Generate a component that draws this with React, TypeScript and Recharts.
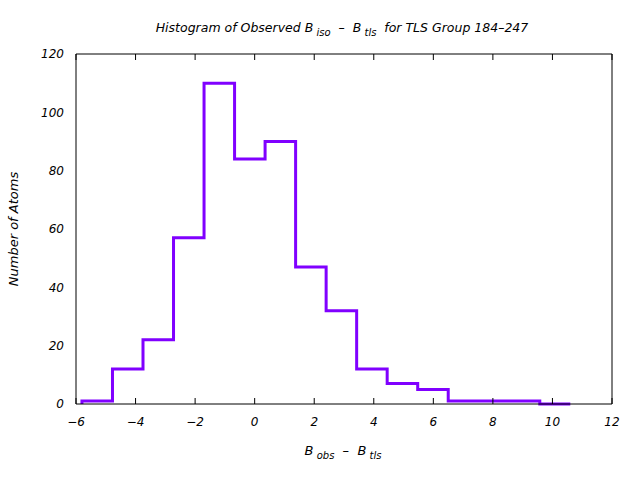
import { LineChart, Line, XAxis, YAxis, Customized } from "recharts";

// bin edges (left edge of each bin, plus the final right edge)
const binEdges = [
  -5.8, -4.775, -3.75, -2.725, -1.7, -0.675, 0.35, 1.375, 2.4, 3.425, 4.45,
  5.475, 6.5, 7.525, 8.55, 9.575, 10.6,
];
// atom counts per bin
const binCounts = [1, 12, 22, 57, 110, 84, 90, 47, 32, 12, 7, 5, 1, 1, 1, 0];

const xTicks = [-6, -4, -2, 0, 2, 4, 6, 8, 10, 12];
const yTicks = [0, 20, 40, 60, 80, 100, 120];

const LINE_COLOR = "#8000ff";
const FONT = "'DejaVu Sans', sans-serif";

// step data: start at zero on the first edge, then one point per bin edge
const data = [
  { x: binEdges[0], y: 0 },
  ...binCounts.map((c, i) => ({ x: binEdges[i], y: c })),
  { x: binEdges[binEdges.length - 1], y: binCounts[binCounts.length - 1] },
];

const tickStyle = { fill: "#000", fontSize: 12, fontStyle: "italic", fontFamily: FONT };
const fmt = (v: number) => String(v).replace("-", "\u2212");

function Titles() {
  const common = { fontFamily: FONT, fontStyle: "italic", fill: "#000" } as const;
  return (
    <g>
      <text x={342} y={32} textAnchor="middle" fontSize={12.5} xmlSpace="preserve" {...common}>
        Histogram of Observed B
        <tspan fontSize={10} dy={4}> iso</tspan>
        <tspan dy={-4}>  –  B</tspan>
        <tspan fontSize={10} dy={4}> tls</tspan>
        <tspan dy={-4}>  for TLS Group 184–247</tspan>
      </text>
      <text x={343} y={455} textAnchor="middle" fontSize={13} xmlSpace="preserve" {...common}>
        B
        <tspan fontSize={10} dy={4}> obs</tspan>
        <tspan dy={-4}>  –  B</tspan>
        <tspan fontSize={10} dy={4}> tls</tspan>
      </text>
      <text
        x={18}
        y={229}
        textAnchor="middle"
        fontSize={13}
        transform="rotate(-90 18 229)"
        {...common}
      >
        Number of Atoms
      </text>
    </g>
  );
}

const noTick = () => <g />;

export default function App() {
  return (
    <div style={{ position: "absolute", left: 0, top: 0, background: "#fff" }}>
      <LineChart
        width={640}
        height={480}
        data={data}
        margin={{ top: 54, right: 28, bottom: 0, left: 0 }}
      >
        {/* labelled axes */}
        <XAxis
          xAxisId="bottom"
          dataKey="x"
          type="number"
          domain={[-6, 12]}
          ticks={xTicks}
          allowDataOverflow
          height={76}
          axisLine={false}
          tickLine={false}
          tickSize={0}
          tickMargin={13}
          tick={tickStyle}
          tickFormatter={fmt}
        />
        <YAxis
          yAxisId="left"
          type="number"
          domain={[0, 120]}
          ticks={yTicks}
          width={76}
          axisLine={false}
          tickLine={false}
          tickSize={0}
          tickMargin={12}
          tick={tickStyle}
          tickFormatter={fmt}
        />
        {/* frame with inward ticks on all four sides */}
        <XAxis
          xAxisId="bottomFrame"
          dataKey="x"
          type="number"
          domain={[-6, 12]}
          ticks={xTicks}
          mirror
          height={1}
          tickSize={6}
          tick={noTick}
          stroke="#000"
        />
        <XAxis
          xAxisId="topFrame"
          dataKey="x"
          type="number"
          orientation="top"
          domain={[-6, 12]}
          ticks={xTicks}
          mirror
          height={1}
          tickSize={6}
          tick={noTick}
          stroke="#000"
        />
        <YAxis
          yAxisId="leftFrame"
          type="number"
          domain={[0, 120]}
          ticks={yTicks}
          mirror
          width={1}
          tickSize={6}
          tick={noTick}
          stroke="#000"
        />
        <YAxis
          yAxisId="rightFrame"
          orientation="right"
          type="number"
          domain={[0, 120]}
          ticks={yTicks}
          mirror
          width={1}
          tickSize={6}
          tick={noTick}
          stroke="#000"
        />
        <Line
          xAxisId="bottom"
          yAxisId="left"
          dataKey="y"
          type="stepAfter"
          stroke={LINE_COLOR}
          strokeWidth={3}
          dot={false}
          isAnimationActive={false}
        />
        <Customized component={Titles} />
      </LineChart>
    </div>
  );
}
